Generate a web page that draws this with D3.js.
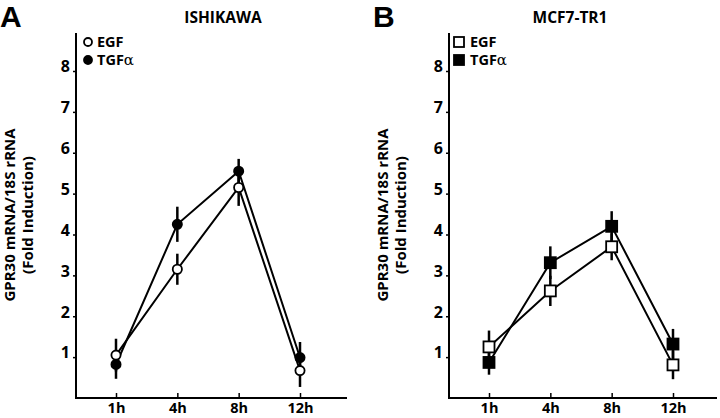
<!DOCTYPE html>
<html><head><meta charset="utf-8">
<script src="https://cdn.jsdelivr.net/npm/d3@7"></script>
<style>
body{margin:0;background:#fff;}
text{font-family:"Open Sans",sans-serif;font-weight:700;fill:#000;}
</style></head>
<body><svg id="c" width="720" height="418"></svg>
<script>
const timepoints = ["1h","4h","8h","12h"];
const yTicks = [1,2,3,4,5,6,7,8];
const panelTitles = ["ISHIKAWA","MCF7-TR1"];
const panelLetters = ["A","B"];
const seriesNames = ["EGF","TGFα"];
// ISHIKAWA
const ishEGF = [1.05, 3.15, 5.15, 0.67];
const ishEGFerr = [0.4, 0.38, 0.45, 0.4];
const ishTGF = [0.82, 4.25, 5.55, 0.99];
const ishTGFerr = [0.35, 0.43, 0.3, 0.38];
// MCF7-TR1
const mcfEGF = [1.25, 2.62, 3.70, 0.81];
const mcfEGFerr = [0.4, 0.37, 0.33, 0.35];
const mcfTGF = [0.87, 3.31, 4.20, 1.32];
const mcfTGFerr = [0.3, 0.4, 0.37, 0.37];

const svg = d3.select("#c");

function panel(cfg){
  const g = svg.append("g");
  const y = d3.scaleLinear().domain([0,8]).range([398,71]);
  const x = d3.scalePoint().domain(timepoints).range([cfg.x0+40, cfg.x0+224]);
  g.append("line").attr("x1",cfg.x0).attr("x2",cfg.x0).attr("y1",y(0)).attr("y2",33)
    .attr("stroke","#000").attr("stroke-width",2);
  g.append("line").attr("x1",cfg.x0-1).attr("x2",cfg.xEnd).attr("y1",y(0)).attr("y2",y(0))
    .attr("stroke","#000").attr("stroke-width",2);
  const ya = g.append("g").attr("transform",`translate(${cfg.x0},0)`)
    .call(d3.axisLeft(y).tickValues(yTicks).tickSize(3).tickPadding(3).tickFormat(d3.format("d")));
  ya.select(".domain").remove();
  ya.selectAll("line").attr("stroke-width",1.5);
  ya.selectAll("text").style("font-size","16px").attr("dy","0.05em");
  const xa = g.append("g").attr("transform",`translate(0,${y(0)})`)
    .call(d3.axisBottom(x).tickSize(-5).tickPadding(8));
  xa.select(".domain").remove();
  xa.selectAll("line").attr("stroke-width",1.5);
  xa.selectAll("text").style("font-size","14.5px").attr("y",5).attr("dy","0.71em");
  svg.append("text").attr("x",cfg.letterX).attr("y",27).text(cfg.letter)
    .style("font-size","30px").style("font-family","'Liberation Sans',Arial,sans-serif");
  svg.append("text").attr("x",cfg.titleX).attr("y",23).attr("text-anchor","middle").text(cfg.title).style("font-size","15.5px");
  const lx = cfg.x0;
  svg.append("text").attr("transform",`translate(${lx-61},215) rotate(-90)`).attr("text-anchor","middle")
    .style("font-size","15px").text("GPR30 mRNA/18S rRNA");
  svg.append("text").attr("transform",`translate(${lx-43},215) rotate(-90)`).attr("text-anchor","middle")
    .style("font-size","15px").text("(Fold Induction)");
  const line = d3.line().x((d,i)=>x(timepoints[i])).y(d=>y(d));
  const series = [
    {v:cfg.egf, e:cfg.egfErr, fill:"#fff"},
    {v:cfg.tgf, e:cfg.tgfErr, fill:"#000"}
  ];
  series.forEach(s=>{
    g.append("path").datum(s.v).attr("d",line).attr("fill","none").attr("stroke","#000").attr("stroke-width",2);
  });
  series.forEach(s=>{
    g.selectAll(null).data(s.v).enter().append("line")
      .attr("x1",(d,i)=>x(timepoints[i])).attr("x2",(d,i)=>x(timepoints[i]))
      .attr("y1",(d,i)=>y(d - s.e[i])).attr("y2",(d,i)=>y(d + s.e[i]))
      .attr("stroke","#000").attr("stroke-width",2.5);
  });
  series.forEach(s=>{
    const sel = g.selectAll(null).data(s.v).enter();
    if(cfg.shape==="circle"){
      sel.append("circle").attr("cx",(d,i)=>x(timepoints[i])).attr("cy",d=>y(d)).attr("r",4.6)
        .attr("fill",s.fill).attr("stroke","#000").attr("stroke-width",1.8);
    } else {
      sel.append("rect").attr("x",(d,i)=>x(timepoints[i])-5.5).attr("y",d=>y(d)-5.5).attr("width",11).attr("height",11)
        .attr("fill",s.fill).attr("stroke","#000").attr("stroke-width",1.8);
    }
  });
  const leg = [{n:seriesNames[0],fill:"#fff",cy:42},{n:seriesNames[1],fill:"#000",cy:60}];
  leg.forEach(l=>{
    if(cfg.shape==="circle"){
      svg.append("circle").attr("cx",cfg.x0+12).attr("cy",l.cy).attr("r",4).attr("fill",l.fill).attr("stroke","#000").attr("stroke-width",1.8);
    } else {
      svg.append("rect").attr("x",cfg.x0+5).attr("y",l.cy-5).attr("width",10).attr("height",10).attr("fill",l.fill).attr("stroke","#000").attr("stroke-width",1.8);
    }
    const t = svg.append("text").attr("x",cfg.x0+21).attr("y",l.cy+5).style("font-size","14.5px");
    if(l.n.endsWith("α")){
      t.append("tspan").text(l.n.slice(0,-1));
      t.append("tspan").text("α").style("font-weight","400").style("font-family","'DejaVu Serif',serif").style("font-size","15px");
    } else t.text(l.n);
  });
}

panel({x0:76, xEnd:347, letter:panelLetters[0], letterX:0, title:panelTitles[0], titleX:223,
  egf:ishEGF, egfErr:ishEGFerr, tgf:ishTGF, tgfErr:ishTGFerr, shape:"circle"});
panel({x0:449, xEnd:717, letter:panelLetters[1], letterX:373, title:panelTitles[1], titleX:570,
  egf:mcfEGF, egfErr:mcfEGFerr, tgf:mcfTGF, tgfErr:mcfTGFerr, shape:"square"});
</script></body></html>
